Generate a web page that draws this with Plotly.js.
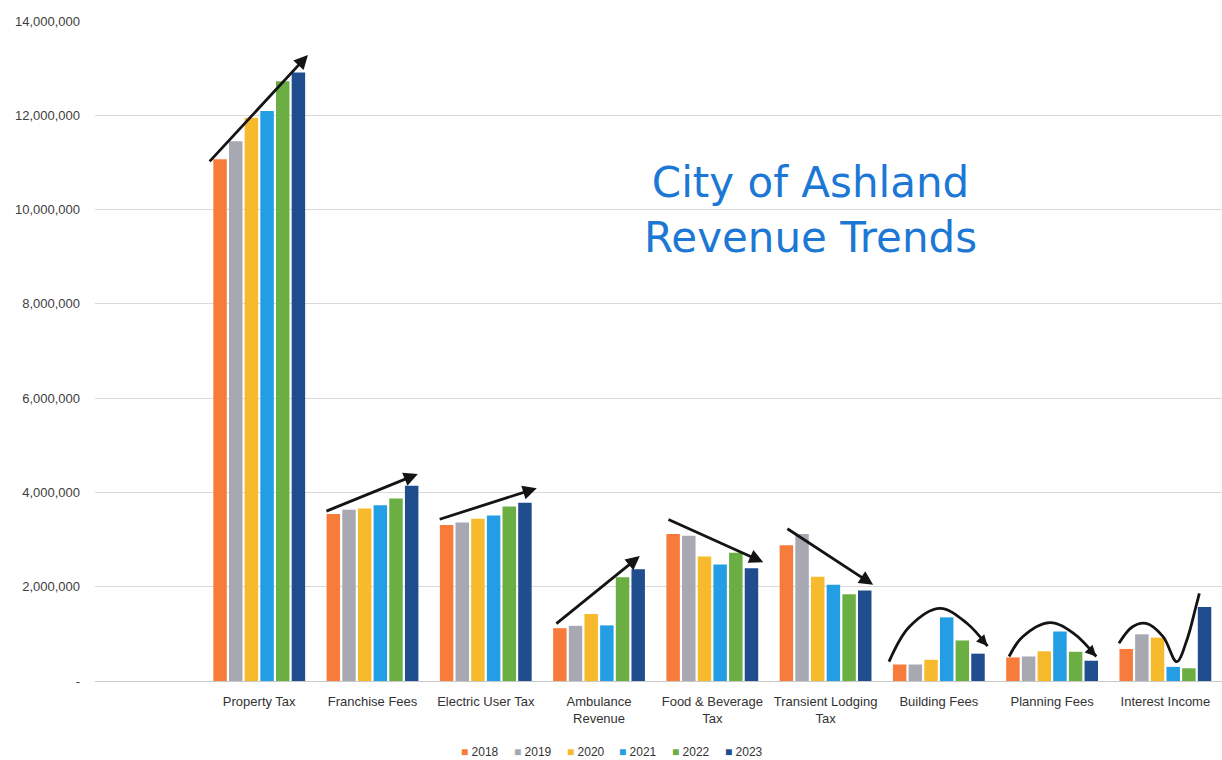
<!DOCTYPE html>
<html>
<head>
<meta charset="utf-8">
<script src="https://cdn.plot.ly/plotly-3.0.1.min.js"></script>
<style>html,body{margin:0;padding:0;background:#fff;}#chart{width:1222px;height:760px;}</style>
</head>
<body>
<div id="chart"></div>
<script>
// ---- data ----
const categories = ['Property Tax', 'Franchise Fees', 'Electric User Tax', 'Ambulance<br>Revenue',
  'Food & Beverage<br>Tax', 'Transient Lodging<br>Tax', 'Building Fees', 'Planning Fees', 'Interest Income'];
const years = ['2018', '2019', '2020', '2021', '2022', '2023'];
const v2018 = [11070000, 3540000, 3310000, 1120000, 3120000, 2880000, 350000, 500000, 680000];
const v2019 = [11450000, 3630000, 3360000, 1170000, 3080000, 3120000, 350000, 520000, 990000];
const v2020 = [11950000, 3660000, 3440000, 1420000, 2640000, 2210000, 450000, 630000, 920000];
const v2021 = [12090000, 3730000, 3510000, 1180000, 2470000, 2040000, 1350000, 1050000, 300000];
const v2022 = [12720000, 3870000, 3700000, 2200000, 2720000, 1840000, 860000, 620000, 270000];
const v2023 = [12910000, 4140000, 3780000, 2370000, 2390000, 1920000, 580000, 430000, 1570000];
const yTickVals = [0, 2000000, 4000000, 6000000, 8000000, 10000000, 12000000, 14000000];
const yTickText = ['-', '2,000,000', '4,000,000', '6,000,000', '8,000,000', '10,000,000', '12,000,000', '14,000,000'];

// hand-drawn trend marks (category-index position, value)
const trendArrows = [
  {x0: -0.45, y0: 10990000, x1: 0.43, y1: 13280000},
  {x0: 0.58, y0: 3590000, x1: 1.40, y1: 4390000},
  {x0: 1.58, y0: 3420000, x1: 2.45, y1: 4090000},
  {x0: 2.61, y0: 1190000, x1: 3.36, y1: 2650000},
  {x0: 3.60, y0: 3440000, x1: 4.45, y1: 2520000},
  {x0: 4.65, y0: 3250000, x1: 5.42, y1: 2040000}
];
const curveBuildingX = [5.56, 5.74, 6.01, 6.25, 6.43];
const curveBuildingY = [410000, 1150000, 1540000, 1220000, 740000];
const curvePlanningX = [6.62, 6.74, 6.98, 7.19, 7.39];
const curvePlanningY = [520000, 940000, 1240000, 1010000, 520000];
const curveInterestX = [7.59, 7.71, 7.83, 7.98, 8.10, 8.19, 8.27, 8.30];
const curveInterestY = [800000, 1150000, 1220000, 940000, 410000, 870000, 1580000, 1860000];

const colors = ['#F77B3B', '#A8A8B2', '#F6BA2C', '#239DE3', '#6BAE44', '#1F4D8E'];
const series = [v2018, v2019, v2020, v2021, v2022, v2023];

const traces = series.map((vals, i) => ({
  type: 'bar', name: years[i], x: categories, y: vals,
  marker: {color: colors[i]}, hoverinfo: 'x+y+name'
}));

const lineStyle = {color: '#141414', width: 2.8, shape: 'spline', smoothing: 1};
[[curveBuildingX, curveBuildingY], [curvePlanningX, curvePlanningY], [curveInterestX, curveInterestY]].forEach(c => {
  traces.push({type: 'scatter', mode: 'lines', x: c[0], y: c[1], xaxis: 'x2', yaxis: 'y',
    line: lineStyle, showlegend: false, hoverinfo: 'skip'});
});

const annotations = trendArrows.map(a => ({
  x: a.x1, y: a.y1, ax: a.x0, ay: a.y0, xref: 'x2', yref: 'y', axref: 'x2', ayref: 'y',
  showarrow: true, arrowhead: 2, arrowsize: 1, arrowwidth: 2.8, arrowcolor: '#141414', text: ''
}));
// arrow tips at end of curves
[[curveBuildingX, curveBuildingY], [curvePlanningX, curvePlanningY]].forEach(c => {
  const n = c[0].length;
  annotations.push({x: c[0][n-1], y: c[1][n-1], ax: c[0][n-2] + (c[0][n-1]-c[0][n-2])*0.6,
    ay: c[1][n-2] + (c[1][n-1]-c[1][n-2])*0.6, xref: 'x2', yref: 'y', axref: 'x2', ayref: 'y',
    showarrow: true, arrowhead: 2, arrowsize: 1, arrowwidth: 2.2, arrowcolor: '#141414', text: ''});
});
annotations.push({
  text: 'City of Ashland<br>Revenue Trends', xref: 'paper', yref: 'paper', x: 0.635, y: 0.713,
  xanchor: 'center', yanchor: 'middle', showarrow: false,
  font: {family: '"DejaVu Sans", "Open Sans", sans-serif', size: 42, color: '#1C78D4'}
});
// compact legend (Excel style: small square + label)
years.forEach((yr, i) => {
  annotations.push({
    text: '<span style="color:' + colors[i] + '">■</span> ' + yr,
    xref: 'paper', yref: 'paper', x: (459 - 95 + 52.8 * i) / 1127, y: -71 / 660,
    xanchor: 'left', yanchor: 'middle', showarrow: false,
    font: {family: '"Liberation Sans", Arial, sans-serif', size: 12, color: '#333333'}
  });
});

const layout = {
  width: 1222, height: 760,
  margin: {l: 95, r: 0, t: 21, b: 79, autoexpand: false},
  paper_bgcolor: '#ffffff', plot_bgcolor: '#ffffff',
  barmode: 'group', bargap: 0.17, bargroupgap: 0.14,
  font: {family: '"Liberation Sans", Arial, sans-serif', size: 12, color: '#333333'},
  xaxis: {type: 'category', range: [-1.45, 8.5], showgrid: false, zeroline: false,
    showline: true, linecolor: '#c8c8c8', linewidth: 1, ticks: '', tickangle: 0,
    ticklabelstandoff: 8, tickfont: {size: 13, color: '#333333'}},
  xaxis2: {type: 'linear', range: [-1.45, 8.5], overlaying: 'x', visible: false},
  yaxis: {range: [0, 14000000], tickvals: yTickVals, ticktext: yTickText,
    showgrid: true, gridcolor: '#d9d9d9', gridwidth: 1, zeroline: false, showline: false,
    ticks: '', ticklabelstandoff: 14, tickfont: {size: 13, color: '#404040'}},
  annotations: annotations,
  showlegend: false
};

Plotly.newPlot('chart', traces, layout, {displayModeBar: false, staticPlot: true});
</script>
</body>
</html>
